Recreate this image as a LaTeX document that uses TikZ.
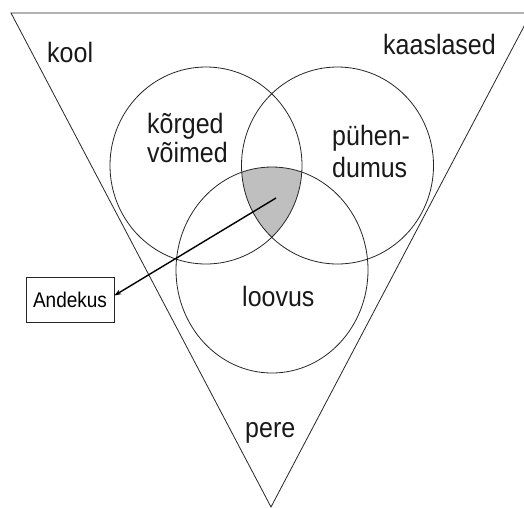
\documentclass[tikz,border=0pt]{standalone}
\usepackage{fontspec}
\setmainfont{Liberation Sans}
\usetikzlibrary{arrows.meta}
\newcommand{\tallt}[1]{\scalebox{1}[1.12]{#1}}
\begin{document}
\begin{tikzpicture}[x=1pt,y=-1pt,
  ring/.style={draw=black!85,line width=0.8pt},
  lbl/.style={inner sep=0pt,anchor=base west,font=\fontsize{25}{28}\selectfont,text=black!90},
  boxlbl/.style={draw=black!85,line width=0.8pt,minimum width=88pt,minimum height=45pt,inner sep=0pt,font=\fontsize{19}{22}\selectfont},
  pointer/.style={line width=1.4pt,-{Stealth[length=7pt,width=5pt]}}]
\useasboundingbox (0,0) rectangle (524,507);
\clip (0,0) rectangle (524,507);
% funnel triangle
\coordinate (tl) at (11,13);
\coordinate (tr) at (531,13);
\coordinate (ap) at (271,507);
\draw[ring] (tl) -- (tr) -- (ap) -- cycle;
% circle centres
\coordinate (ca) at (206,165.5);
\coordinate (cb) at (337.5,165.5);
\coordinate (cc) at (272,270);
% shaded triple intersection
\begin{scope}
  \clip (ca) ellipse [x radius=96,y radius=98.5];
  \clip (cb) ellipse [x radius=96,y radius=98.5];
  \fill[black!25] (cc) ellipse [x radius=96,y radius=103];
\end{scope}
\draw[ring] (ca) ellipse [x radius=96,y radius=98.5];
\draw[ring] (cb) ellipse [x radius=96,y radius=98.5];
\draw[ring] (cc) ellipse [x radius=96,y radius=103];
% labels
\node[lbl] (kool) at (47,62) {\tallt{kool}};
\node[lbl] (kaas) at (383,54) {\tallt{kaaslased}};
\node[lbl] (korg) at (147,133) {\tallt{kõrged}};
\node[lbl] (voim) at (147,162) {\tallt{võimed}};
\node[lbl] (puh) at (332,145) {\tallt{pühen-}};
\node[lbl] (dum) at (332,177) {\tallt{dumus}};
\node[lbl] (loov) at (242,306) {\tallt{loovus}};
\node[lbl] (pere) at (245,437) {\tallt{pere}};
% Andekus box and arrow
\node[boxlbl] (and) at (70,299.5) {\tallt{Andekus}};
\coordinate (core) at (276,198);
\draw[pointer] (core) -- ([yshift=4pt]and.east);
\end{tikzpicture}
\end{document}
